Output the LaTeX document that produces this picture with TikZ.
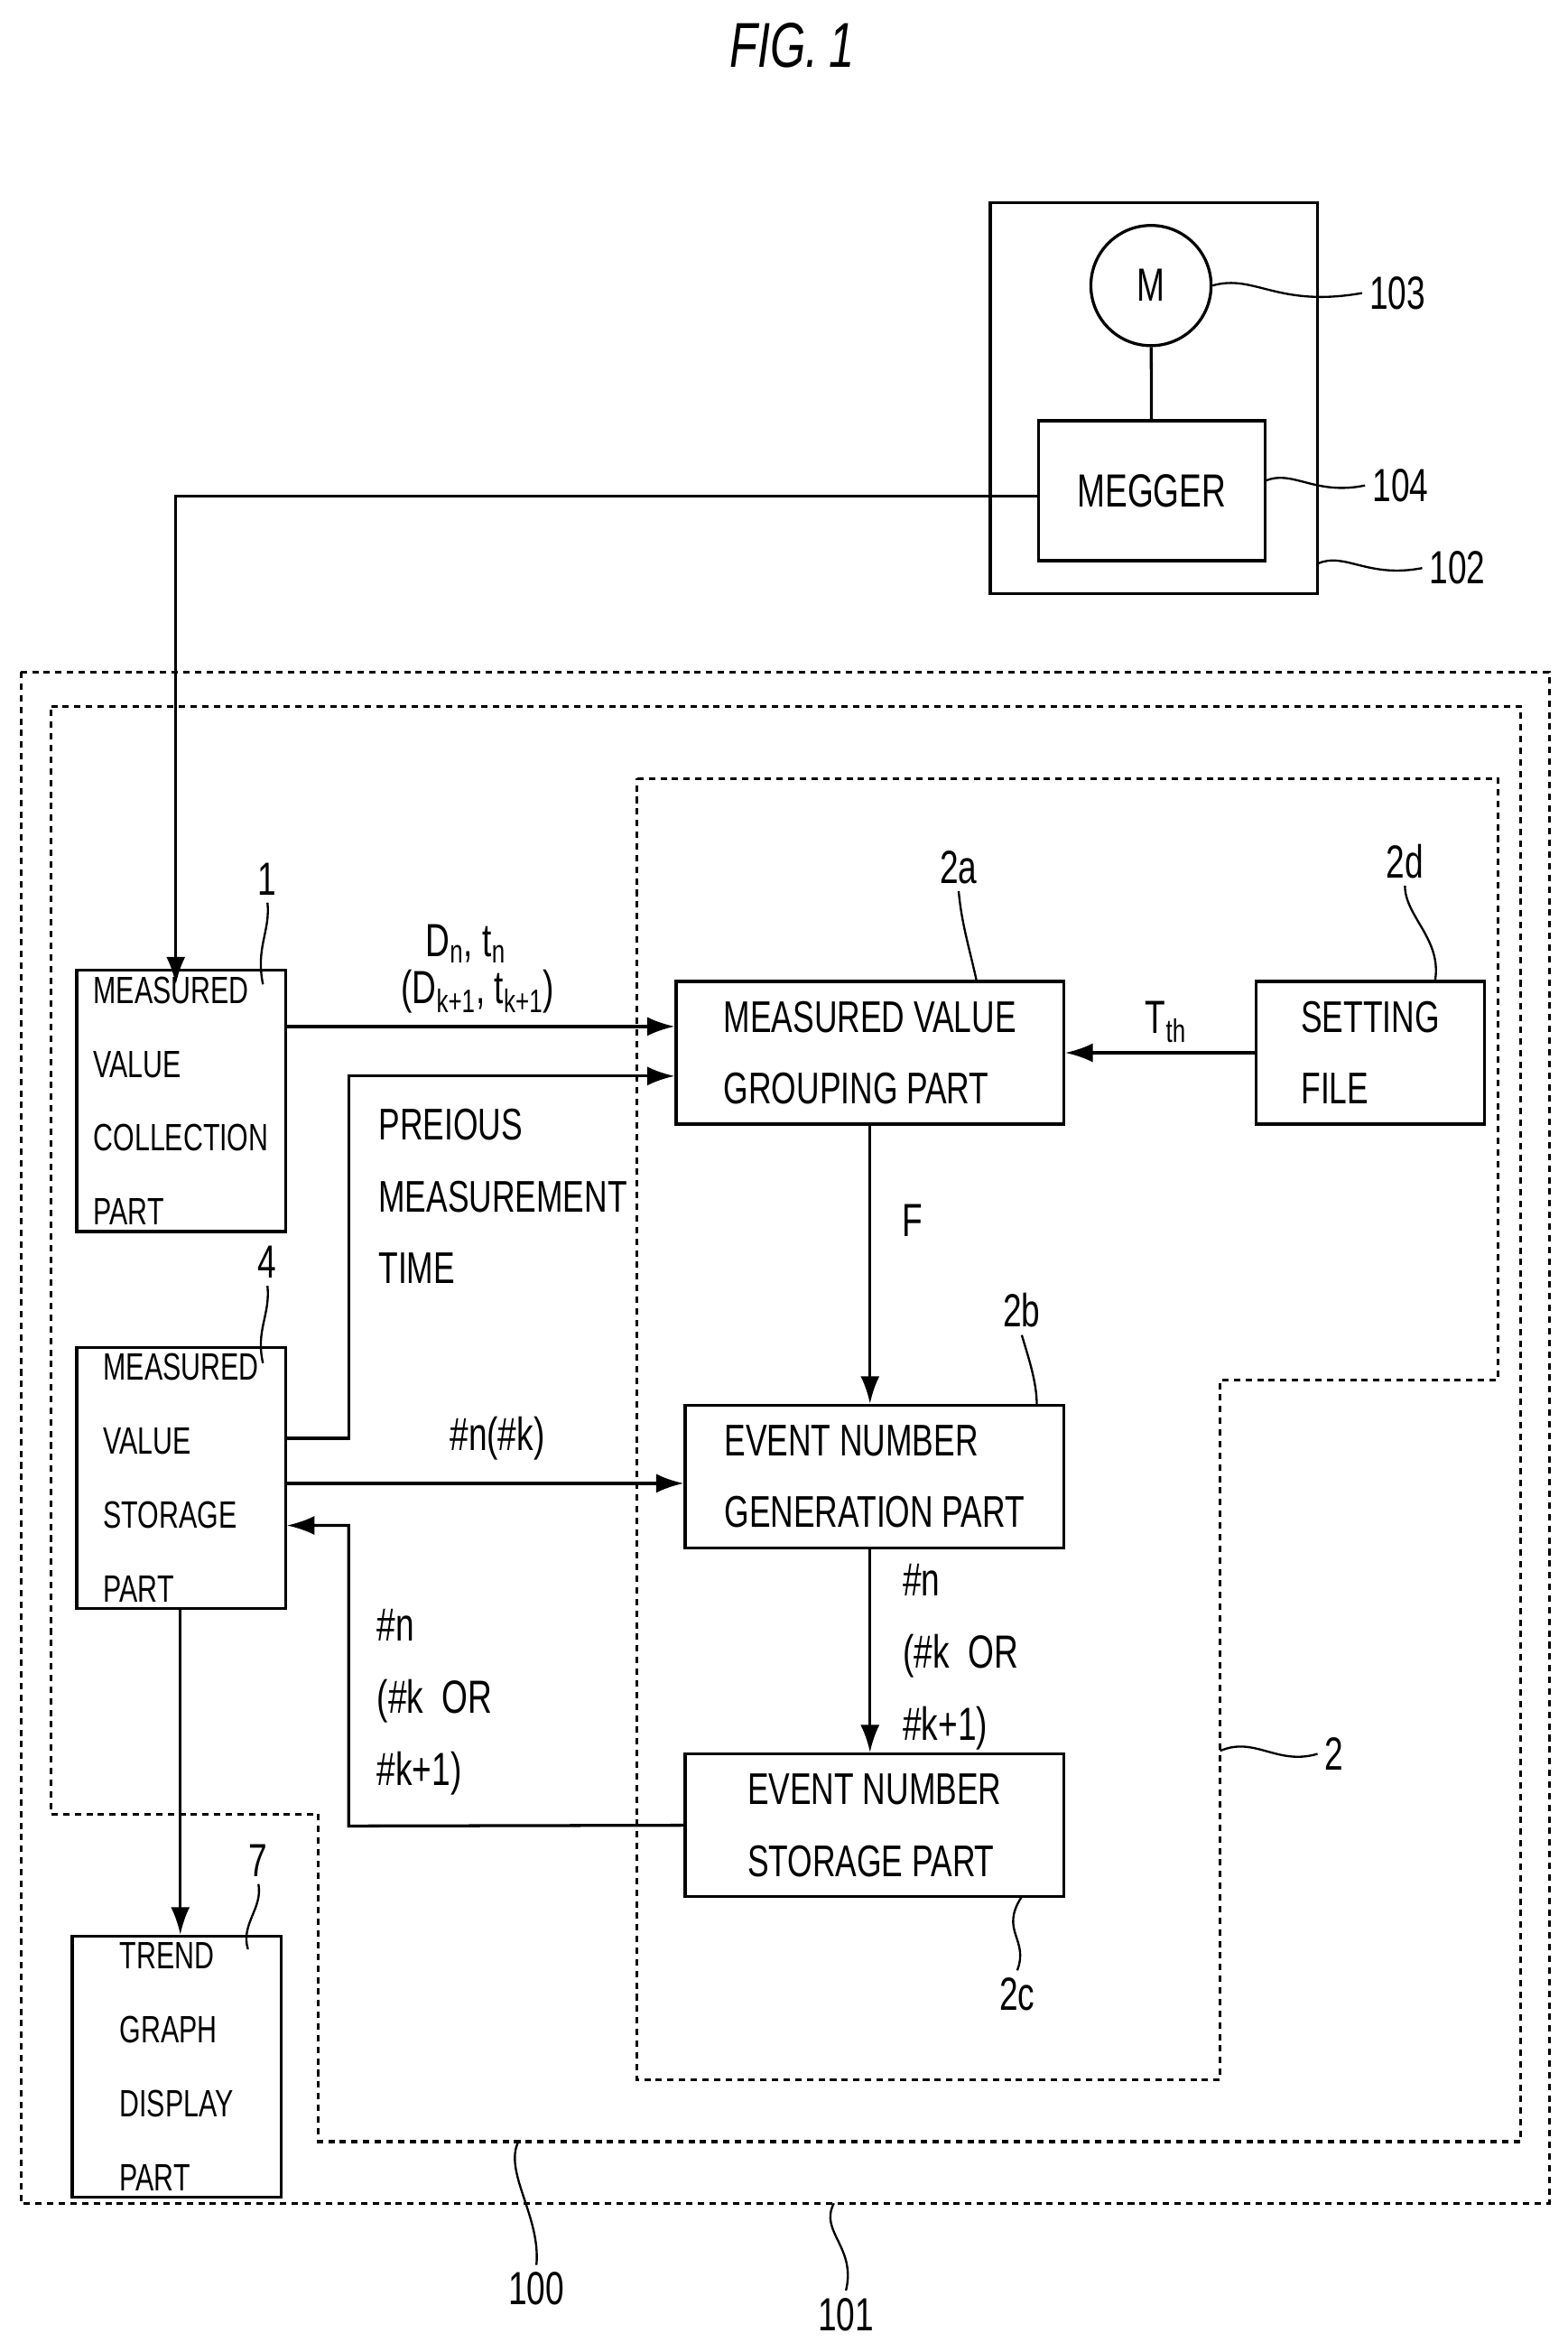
\documentclass[tikz,border=0pt]{standalone}
\usepackage{fontspec}
\setmainfont{Liberation Sans}[FakeStretch=0.72]
\usetikzlibrary{arrows.meta}
\begin{document}
\begin{tikzpicture}[x=0.025cm,y=-0.025cm,
    box/.style={draw, line width=1.4pt, inner sep=3pt},
    dotbox/.style={draw, line width=1.3pt, dash pattern=on 3pt off 2.5pt},
    line/.style={line width=1.4pt},
    arr/.style={line width=1.4pt, -{Latex[length=13pt,width=9pt]}},
    lead/.style={line width=1pt},
    lbl/.style={font=\fontsize{22}{26}\selectfont},
    big/.style={font=\fontsize{21}{34}\selectfont, align=left},
    small/.style={font=\fontsize{18}{35}\selectfont, align=left}]
    \useasboundingbox (0,0) rectangle (1043,1565);
    \node[font=\fontsize{30}{34}\selectfont\itshape] (fig) at (527,30) {FIG.\,1};
    % motor unit
    \draw[line] (659,135) rectangle (877,395);
    \node[draw, circle, line width=1.4pt, minimum size=80*0.025cm, lbl] (m) at (766,190) {M};
    \node[box, minimum width=151*0.025cm, minimum height=93*0.025cm, lbl] (megger) at (766.5,326.5) {MEGGER};
    \draw[line] (m) -- (megger);
    \node[lbl] (l103) at (930,195) {103};
    \node[lbl] (l104) at (932,323) {104};
    \node[lbl] (l102) at (970,378) {102};
    \draw[lead] (m.east) .. controls (835,182) and (850,205) .. (l103.west);
    \draw[lead] (842,320) .. controls (860,312) and (875,330) .. (l104.west);
    \draw[lead] (877,375) .. controls (895,367) and (910,385) .. (l102.west);
    % dotted frames
    \draw[dotbox] (14,447) rectangle (1031,1466);
    \draw[dotbox] (34,470) -- (1012,470) -- (1012,1425) -- (212,1425) -- (212,1207) -- (34,1207) -- cycle;
    \draw[dotbox] (424,518) -- (997,518) -- (997,918) -- (812,918) -- (812,1384) -- (424,1384) -- cycle;
    \node[lbl] (l101) at (563,1540) {101};
    \node[lbl] (l100) at (357,1523) {100};
    \node[lbl] (l2) at (888,1167) {2};
    \draw[lead] (555,1466) .. controls (545,1485) and (570,1495) .. (l101.north);
    \draw[lead] (345,1425) .. controls (335,1445) and (360,1475) .. (l100.north);
    \draw[lead] (812,1165) .. controls (835,1155) and (850,1175) .. (l2.west);
    % blocks
    \node[box, minimum width=139*0.025cm, minimum height=155*0.025cm, small] (collect) at (120.5,732.5) {MEASURED\\VALUE\\COLLECTION\\PART};
    \node[box, minimum width=258*0.025cm, minimum height=95*0.025cm, big] (group) at (579,700.5) {MEASURED VALUE\\GROUPING PART};
    \node[box, minimum width=152*0.025cm, minimum height=95*0.025cm, big] (setting) at (912,700.5) {SETTING\\FILE};
    \node[box, minimum width=139*0.025cm, minimum height=153*0.025cm, small] (store) at (120.5,983.5) {MEASURED\\VALUE\\STORAGE\\PART};
    \node[box, minimum width=252*0.025cm, minimum height=95*0.025cm, big] (gen) at (582,982.5) {EVENT NUMBER\\GENERATION PART};
    \node[box, minimum width=252*0.025cm, minimum height=95*0.025cm, big] (evstore) at (582,1214.5) {EVENT NUMBER\\STORAGE PART};
    \node[box, minimum width=139*0.025cm, minimum height=156*0.025cm, small] (trend) at (117.5,1375) {TREND\\GRAPH\\DISPLAY\\PART};
    % reference numerals
    \node[lbl] (l1) at (178,585) {1};
    \node[lbl] (l2a) at (638,577) {2a};
    \node[lbl] (l2d) at (935,573) {2d};
    \node[lbl] (l4) at (178,840) {4};
    \node[lbl] (l2b) at (680,872) {2b};
    \node[lbl] (l2c) at (677,1327) {2c};
    \node[lbl] (l7) at (172,1238) {7};
    \draw[lead] (l1.south) .. controls (180,620) and (170,630) .. (175,655);
    \draw[lead] (l2a.south) .. controls (640,615) and (645,630) .. (650,653);
    \draw[lead] (l2d.south) .. controls (935,610) and (960,625) .. (955,653);
    \draw[lead] (l4.south) .. controls (180,875) and (170,885) .. (175,907);
    \draw[lead] (l2b.south) .. controls (685,905) and (690,920) .. (690,935);
    \draw[lead] (l2c.north) .. controls (685,1290) and (665,1285) .. (680,1262);
    \draw[lead] (l7.south) .. controls (175,1270) and (160,1280) .. (165,1297);
    % connectors
    \coordinate (c1) at (117,330);
    \draw[arr] (megger.west |- 0,330) -- (c1) -- (117,655);
    \draw[arr] (collect.east |- 0,683) -- (group.west |- 0,683);
    \coordinate (p1) at (232,957);
    \coordinate (p2) at (232,716);
    \draw[arr] (store.east |- p1) -- (p1) -- (p2) -- (group.west |- p2);
    \draw[arr] (setting.west) -- (group.east);
    \draw[arr] (group.south) -- (gen.north -| group.south);
    \draw[arr] (store.east |- 0,987) -- (gen.west |- 0,987);
    \draw[arr] (gen.south -| group.south) -- (evstore.north -| group.south);
    \coordinate (q1) at (232,1215);
    \coordinate (q2) at (232,1015);
    \draw[arr] (evstore.west) -- (q1) -- (q2) -- (store.east |- q2);
    \draw[arr] (store.south -| 120,0) -- (trend.north -| 120,0);
    % connector labels
    \node[lbl] (dn) at (310,628) {D\textsubscript{n}, t\textsubscript{n}};
    \node[lbl] (dk) at (318,660) {(D\textsubscript{k+1}, t\textsubscript{k+1})};
    \node[big, anchor=north west] (prev) at (247,733) {PREIOUS\\MEASUREMENT\\TIME};
    \node[lbl] (tth) at (776,680) {T\textsubscript{th}};
    \node[lbl] (f) at (607,812) {F};
    \node[lbl] (nk) at (331,957) {\#n(\#k)};
    \node[lbl, align=left, anchor=north west, font=\fontsize{22}{34}\selectfont] (nk1) at (596,1036) {\#n\\(\#k\ \ OR\\\#k+1)};
    \node[lbl, align=left, anchor=north west, font=\fontsize{22}{34}\selectfont] (nk2) at (246,1066) {\#n\\(\#k\ \ OR\\\#k+1)};
\end{tikzpicture}
\end{document}
